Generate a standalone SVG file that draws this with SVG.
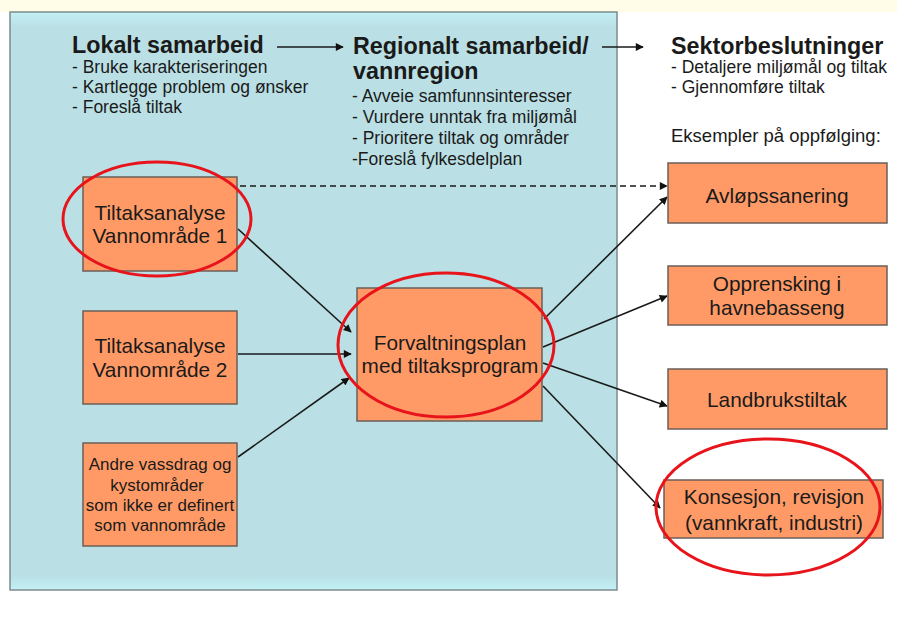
<svg xmlns="http://www.w3.org/2000/svg" width="897" height="617" viewBox="0 0 897 617">
<defs>
<linearGradient id="pg" x1="0" y1="0" x2="0" y2="1">
<stop offset="0" stop-color="#C2F1F5"/>
<stop offset="0.025" stop-color="#BAE0E5"/>
<stop offset="0.975" stop-color="#BAE0E5"/>
<stop offset="1" stop-color="#C2F1F5"/>
</linearGradient>
<marker id="ah" viewBox="0 0 10 10" refX="9" refY="5" markerWidth="9" markerHeight="8" markerUnits="userSpaceOnUse" orient="auto">
<path d="M0,0 L10,5 L0,10 z" fill="#111"/>
</marker>
</defs>
<style>
text{font-family:"Liberation Sans",Arial,sans-serif;fill:#1a1a1a}
.h{font-size:23.3px;font-weight:bold}
.b{font-size:17.5px}
.e{font-size:18.5px}
.n{font-size:20.8px;text-anchor:middle}
.s{font-size:17px;text-anchor:middle}
.box{fill:#FF9A66;stroke:#6b5f58;stroke-width:1.5}
.c{stroke:#1a1a1a;stroke-width:1.6;fill:none;marker-end:url(#ah)}
.red{fill:none;stroke:#E8141B;stroke-width:3}
</style>
<rect x="0" y="0" width="897" height="617" fill="#FFFFFF"/>
<rect x="0" y="0" width="897" height="12" fill="#FFFDE8"/>
<rect x="10" y="12" width="607" height="578" fill="url(#pg)" stroke="#7d8b8d" stroke-width="1.5"/>

<g id="headers">
<text class="h" x="72" y="53">Lokalt samarbeid</text>
<text class="b" x="72" y="73">- Bruke karakteriseringen</text>
<text class="b" x="72" y="93">- Kartlegge problem og ønsker</text>
<text class="b" x="72" y="113">- Foreslå tiltak</text>
<text class="h" x="353" y="54">Regionalt samarbeid/</text>
<text class="h" x="353" y="79">vannregion</text>
<text class="b" x="352" y="102">- Avveie samfunnsinteresser</text>
<text class="b" x="352" y="123">- Vurdere unntak fra miljømål</text>
<text class="b" x="352" y="144">- Prioritere tiltak og områder</text>
<text class="b" x="352" y="165">-Foreslå fylkesdelplan</text>
<text class="h" x="671" y="54">Sektorbeslutninger</text>
<text class="b" x="671" y="73">- Detaljere miljømål og tiltak</text>
<text class="b" x="671" y="93">- Gjennomføre tiltak</text>
<text class="e" x="671" y="142">Eksempler på oppfølging:</text>
</g>

<g id="connectors">
<line class="c" x1="277" y1="47" x2="343" y2="47"/>
<line class="c" x1="602" y1="47" x2="643" y2="47"/>
<line class="c" x1="240" y1="186" x2="667" y2="186" stroke-dasharray="6,4"/>
<line class="c" x1="238" y1="229" x2="351" y2="332"/>
<line class="c" x1="238" y1="354" x2="351" y2="354"/>
<line class="c" x1="238" y1="457" x2="349" y2="378"/>
<line class="c" x1="544" y1="319" x2="667" y2="197"/>
<line class="c" x1="543" y1="347" x2="667" y2="296"/>
<line class="c" x1="543" y1="363" x2="667" y2="406"/>
<line class="c" x1="543" y1="386" x2="660" y2="508"/>
</g>

<g id="node-tiltak1">
<rect class="box" x="83" y="177" width="154" height="94"/>
<text class="n" x="160" y="220">Tiltaksanalyse</text>
<text class="n" x="160" y="243">Vannområde 1</text>
</g>
<g id="node-tiltak2">
<rect class="box" x="83" y="311" width="154" height="93"/>
<text class="n" x="160" y="353">Tiltaksanalyse</text>
<text class="n" x="160" y="377">Vannområde 2</text>
</g>
<g id="node-andre">
<rect class="box" x="83" y="443" width="154" height="103"/>
<text class="s" x="160" y="470">Andre vassdrag og</text>
<text class="s" x="157" y="491">kystområder</text>
<text class="s" x="160" y="511">som ikke er definert</text>
<text class="s" x="160" y="531">som vannområde</text>
</g>
<g id="node-forvaltning">
<rect class="box" x="357" y="288" width="185" height="133"/>
<text class="n" x="450" y="350">Forvaltningsplan</text>
<text class="n" x="450" y="373">med tiltaksprogram</text>
</g>
<g id="node-avlop">
<rect class="box" x="668" y="163" width="219" height="60"/>
<text class="n" x="777" y="203">Avløpssanering</text>
</g>
<g id="node-opprensking">
<rect class="box" x="668" y="266" width="219" height="59"/>
<text class="n" x="777" y="291">Opprensking i</text>
<text class="n" x="777" y="315">havnebasseng</text>
</g>
<g id="node-landbruk">
<rect class="box" x="668" y="369" width="219" height="60"/>
<text class="n" x="777" y="407">Landbrukstiltak</text>
</g>
<g id="node-konsesjon">
<rect class="box" x="664" y="480" width="219" height="58"/>
<text class="n" x="774" y="504">Konsesjon, revisjon</text>
<text class="n" x="774" y="530">(vannkraft, industri)</text>
</g>

<g id="highlights">
<ellipse class="red" cx="157" cy="219" rx="94" ry="57"/>
<ellipse class="red" cx="446" cy="345" rx="108" ry="72"/>
<ellipse class="red" cx="768" cy="507" rx="112" ry="68"/>
</g>
</svg>
